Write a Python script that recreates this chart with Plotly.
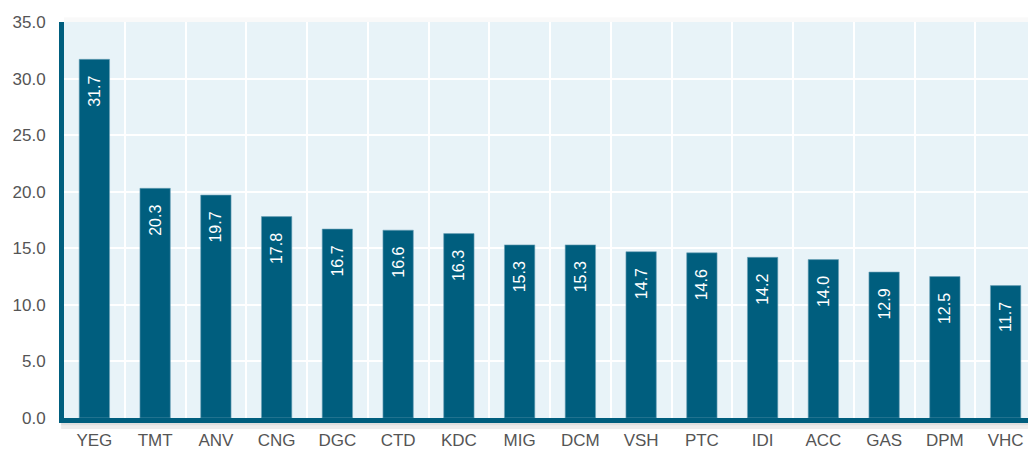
import plotly.graph_objects as go

categories = ["YEG", "TMT", "ANV", "CNG", "DGC", "CTD", "KDC", "MIG", "DCM", "VSH", "PTC", "IDI", "ACC", "GAS", "DPM", "VHC"]
values = [31.7, 20.3, 19.7, 17.8, 16.7, 16.6, 16.3, 15.3, 15.3, 14.7, 14.6, 14.2, 14.0, 12.9, 12.5, 11.7]
y_ticks = [0, 5, 10, 15, 20, 25, 30, 35]
y_tick_labels = [f"{v:.1f}" for v in y_ticks]

BAR = "#005E7E"
BG = "#E8F3F8"
FONT = "Liberation Sans, Arial, sans-serif"

fig = go.Figure()
fig.add_trace(go.Bar(
    x=categories, y=values,
    marker=dict(color=BAR, line=dict(color="#6FA3B8", width=0.6)),
    width=0.5,
    text=[f"{v:.1f}" for v in values],
    texttemplate="%{text}\u00a0\u00a0\u00a0",
    textposition="inside",
    insidetextanchor="end",
    textangle=-90,
    textfont=dict(color="white", size=16, family=FONT),
    cliponaxis=False,
    hoverinfo="x+y",
))

# soft shadows around the plot frame
fig.add_shape(type="rect", xref="paper", yref="paper", x0=-0.003, x1=1, y0=-0.028, y1=-0.008,
              fillcolor="rgba(0,0,0,0.07)", line=dict(width=0), layer="below")
fig.add_shape(type="rect", xref="paper", yref="paper", x0=-0.003, x1=1, y0=-0.018, y1=-0.008,
              fillcolor="rgba(0,0,0,0.06)", line=dict(width=0), layer="below")
fig.add_shape(type="rect", xref="paper", yref="paper", x0=0, x1=1, y0=1.0, y1=1.012,
              fillcolor="rgba(0,0,0,0.025)", line=dict(width=0), layer="below")

fig.update_layout(
    width=1028, height=442, autosize=False,
    margin=dict(l=56, r=0, t=14, b=30, pad=0),
    paper_bgcolor="white", plot_bgcolor=BG,
    showlegend=False,
    font=dict(family=FONT, size=17, color="#555555"),
    bargap=0.5,
    xaxis=dict(
        type="category", tickson="boundaries", showgrid=True, gridcolor="white", gridwidth=2,
        showline=True, linecolor=BAR, linewidth=5, ticks="",
        tickfont=dict(size=17, color="#555555", family=FONT),
        ticklabelstandoff=3,
        range=[-0.5, len(categories) - 0.5], fixedrange=True,
    ),
    yaxis=dict(
        range=[0, 35], tickvals=y_ticks, ticktext=y_tick_labels,
        showgrid=True, gridcolor="white", gridwidth=2, zeroline=False,
        showline=True, linecolor=BAR, linewidth=5, ticks="",
        tickfont=dict(size=17, color="#555555", family=FONT),
        ticklabelstandoff=10,
    ),
)

fig.write_html("out.html")
